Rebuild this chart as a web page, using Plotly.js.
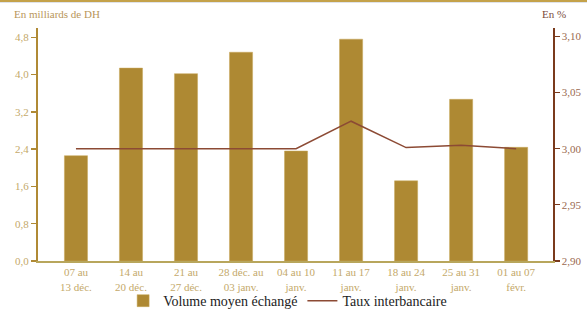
<!DOCTYPE html>
<html><head><meta charset="utf-8">
<script src="https://cdn.plot.ly/plotly-3.0.1.min.js"></script>
<style>html,body{margin:0;padding:0;background:#fff;}#wrap{position:relative;width:587px;height:311px;}
#bar{position:absolute;left:0;top:0;width:587px;height:2px;background:#c4a24a;border-bottom:1px solid #dfe3ea;z-index:5;}</style>
</head><body>
<div id="wrap"><div id="bar"></div><div id="chart" style="width:587px;height:311px;"></div></div>
<script>
var categories = ["07 au<br>13 déc.","14 au<br>20 déc.","21 au<br>27 déc.","28 déc. au<br>03 janv.","04 au 10<br>janv.","11 au 17<br>janv.","18 au 24<br>janv.","25 au 31<br>janv.","01 au 07<br>févr."];
var volume = [2.26, 4.14, 4.02, 4.48, 2.36, 4.76, 1.72, 3.47, 2.44];
var taux = [3.000, 3.000, 3.000, 3.000, 3.000, 3.0245, 3.001, 3.003, 3.000];
var leftTicks = [0, 0.8, 1.6, 2.4, 3.2, 4.0, 4.8];
var leftTickText = ["0,0","0,8","1,6","2,4","3,2","4,0","4,8"];
var rightTicks = [2.90, 2.95, 3.00, 3.05, 3.10];
var rightTickText = ["2,90","2,95","3,00","3,05","3,10"];

var serif = "Liberation Serif";
var traces = [
  {type:"bar", x:categories, y:volume, name:"Volume moyen échangé", marker:{color:"#ae8933", line:{color:"#c9a95a", width:0.5}}, width:0.42, yaxis:"y"},
  {type:"scatter", mode:"lines", x:categories, y:taux, name:"Taux interbancaire", line:{color:"#8c4a34", width:1.5}, yaxis:"y2"}
];
var layout = {
  width:587, height:311,
  margin:{l:38, r:34, t:28, b:50, autoexpand:false},
  paper_bgcolor:"#fff", plot_bgcolor:"#fff",
  font:{family:serif, size:11, color:"#c4a96a"},
  showlegend:true,
  legend:{orientation:"h", xref:"container", yref:"container", x:0.49, xanchor:"center", y:0.032, yanchor:"middle", font:{family:serif, size:14, color:"#222"}, bgcolor:"rgba(0,0,0,0)", tracegroupgap:0},
  xaxis:{type:"category", automargin:false, range:[-0.69, 8.67], showgrid:false, zeroline:false, showline:true, linecolor:"#b8a65c", linewidth:2, ticks:"", tickfont:{family:serif, size:11, color:"#c4a96a"}},
  yaxis:{automargin:false, range:[0, 5.0], tickvals:leftTicks, ticktext:leftTickText, showgrid:false, zeroline:false, showline:true, linecolor:"#b08a35", linewidth:2, ticks:"outside", ticklen:5, tickwidth:1.5, tickcolor:"#b08a35", tickfont:{family:serif, size:11, color:"#c4a96a"}},
  yaxis2:{automargin:false, overlaying:"y", side:"right", range:[2.90, 3.1075], tickvals:rightTicks, ticktext:rightTickText, showgrid:false, zeroline:false, showline:true, linecolor:"#7a3a1c", linewidth:1.5, ticks:"outside", ticklen:5, tickwidth:1.2, tickcolor:"#7a3a1c", tickfont:{family:serif, size:11, color:"#9a6a50"}},
  annotations:[
    {xref:"paper", yref:"paper", x:-0.05, y:1.025, xanchor:"left", yanchor:"bottom", text:"En milliards de DH", showarrow:false, font:{family:serif, size:11, color:"#b8965a"}},
    {xref:"paper", yref:"paper", x:0.975, y:1.025, xanchor:"left", yanchor:"bottom", text:"En %", showarrow:false, font:{family:serif, size:11, color:"#7a4a3a"}}
  ]
};
Plotly.newPlot("chart", traces, layout, {displayModeBar:false, staticPlot:true});
</script>
</body></html>
